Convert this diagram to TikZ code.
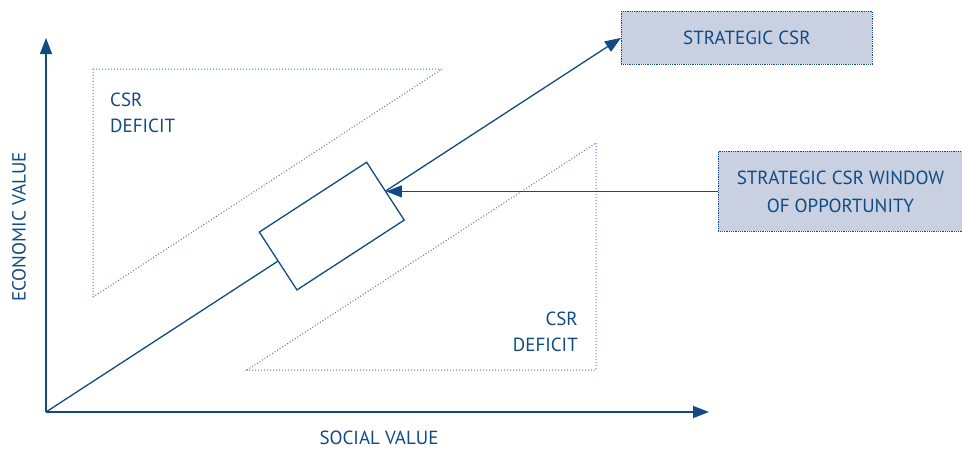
\documentclass[tikz,border=0pt]{standalone}
\usepackage{fontspec}
\setmainfont{PT Sans}
\usetikzlibrary{arrows.meta}
\definecolor{dblue}{RGB}{18,74,130}
\definecolor{dotblue}{RGB}{80,120,170}
\definecolor{boxfill}{RGB}{200,208,226}
\begin{document}
\begin{tikzpicture}[x=1pt,y=-1pt,
  axis/.style={draw=dblue, line width=1.5pt, -{Triangle[length=16pt,width=12pt]}},
  conn/.style={draw=dblue, line width=1.3pt, -{Triangle[length=16pt,width=12pt]}},
  dots/.style={draw=dotblue, dotted, line width=1pt},
  lbl/.style={text=dblue, font=\fontsize{19}{26}\selectfont, inner sep=0pt},
  tbox/.style={fill=boxfill, draw=dblue, densely dotted, line width=0.8pt, text=dblue,
    font=\fontsize{19}{28}\selectfont, align=center, inner sep=0pt},
  rbox/.style={draw=dblue, fill=white, solid, line width=1.3pt, minimum width=128pt,
    minimum height=69pt, inner sep=0pt}
]
\useasboundingbox (0,0) rectangle (962,450);
\draw[dots] (93,69) -- (442,69) -- (93,297) -- cycle;
\draw[dots] (596,143) -- (596,370) -- (247,370) -- cycle;
\coordinate (O) at (46,412);
\coordinate (ytip) at (46,38);
\coordinate (xtip) at (709,412);
\node[tbox, minimum width=251pt, minimum height=53pt, anchor=north west] (strat) at (621,11) {STRATEGIC CSR};
\node[tbox, minimum width=244pt, minimum height=80pt, anchor=north west] (window) at (718,151) {STRATEGIC CSR WINDOW\\OF OPPORTUNITY};
\draw[conn] (O) -- node[pos=0.497, sloped, rbox] (rect) {} (strat.west);
\draw[conn] (window.west) -- (window.west -| rect.east);
\draw[axis] (O) -- (ytip);
\draw[axis] (O) -- (xtip);
\node[lbl, rotate=90] (ev) at (19,227) {ECONOMIC VALUE};
\node[lbl] (sv) at (379,438) {SOCIAL VALUE};
\node[lbl, align=left, anchor=north west] (d1) at (110,93) {CSR\\DEFICIT};
\node[lbl, align=right, anchor=north east] (d2) at (578,312) {CSR\\DEFICIT};
\end{tikzpicture}
\end{document}
